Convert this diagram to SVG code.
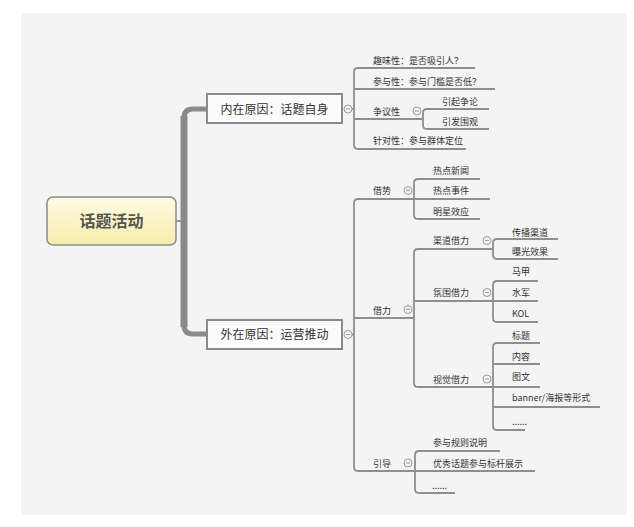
<svg xmlns="http://www.w3.org/2000/svg" width="634" height="527" viewBox="0 0 634 527">
<defs>
<linearGradient id="cg" x1="0" y1="0" x2="0" y2="1">
<stop offset="0" stop-color="#fdfbe6"/>
<stop offset="1" stop-color="#f7eca8"/>
</linearGradient>
<g id="col">
<circle r="4" fill="#f4f4f4" stroke="#9a9a9a" stroke-width="1"/>
<line x1="-2" y1="0" x2="2" y2="0" stroke="#9a9a9a" stroke-width="1"/>
</g>
</defs>
<style>
.ln{fill:none;stroke:#8e8e8e;stroke-width:1.8}
.t{font-family:"Noto Sans CJK SC","Liberation Sans",sans-serif;font-size:9px;fill:#333}
.b{font-family:"Noto Sans CJK SC","Liberation Sans",sans-serif;font-size:12px;fill:#333;text-anchor:middle}
.box{fill:#fbfbfb;stroke:#8a8a8a;stroke-width:2}
</style>
<rect x="0" y="0" width="634" height="527" fill="#ffffff"/>
<rect x="21" y="13" width="606" height="502" fill="#f4f4f4"/>

<g id="connectors">
<line x1="176" y1="221" x2="185" y2="221" class="ln"/>
<path d="M206 109 L193 109 Q184 109 184 118 L184 325 Q184 334 193 334 L206 334" fill="none" stroke="#8a8a8a" stroke-width="5"/>
<line x1="184" y1="116" x2="184" y2="327" stroke="#8a8a8a" stroke-width="7"/>
<!-- box1 children -->
<line x1="352" y1="109" x2="354" y2="109" class="ln"/>
<path d="M475 68 L358 68 Q354 68 354 72 L354 145 Q354 149 358 149 L466 149" class="ln"/>
<line x1="354" y1="89" x2="495" y2="89" class="ln"/>
<line x1="354" y1="119" x2="423" y2="119" class="ln"/>
<path d="M489 109 L427 109 Q423 109 423 113 L423 125 Q423 129 427 129 L489 129" class="ln"/>
<!-- box2 children -->
<line x1="352" y1="334.5" x2="354" y2="334.5" class="ln"/>
<path d="M490 199 L358 199 Q354 199 354 203 L354 467 Q354 471 358 471 L535 471" class="ln"/>
<path d="M480 179 L418 179 Q414 179 414 183 L414 215 Q414 219 418 219 L480 219" class="ln"/>
<line x1="354" y1="318" x2="414" y2="318" class="ln"/>
<path d="M493 249 L418 249 Q414 249 414 253 L414 383 Q414 387 418 387 L540 387" class="ln"/>
<path d="M558 239 L497 239 Q493 239 493 243 L493 255 Q493 259 497 259 L558 259" class="ln"/>
<line x1="414" y1="301" x2="538" y2="301" class="ln"/>
<path d="M538 281 L497 281 Q493 281 493 285 L493 318 Q493 322 497 322 L538 322" class="ln"/>
<path d="M540 343 L497 343 Q493 343 493 347 L493 426 Q493 430 497 430 L525 430" class="ln"/>
<line x1="493" y1="364" x2="540" y2="364" class="ln"/>
<line x1="493" y1="407" x2="600" y2="407" class="ln"/>
<path d="M500 451 L419 451 Q415 451 415 455 L415 489 Q415 493 419 493 L455 493" class="ln"/>
</g>

<g id="root">
<rect x="47" y="197" width="129" height="48" rx="6" fill="url(#cg)" stroke="#8a8a8a" stroke-width="1.5"/>
<text x="111.5" y="227" font-family="'Noto Sans CJK SC','Liberation Sans',sans-serif" font-size="16" font-weight="bold" fill="#555" text-anchor="middle">话题活动</text>
</g>

<g id="inner">
<rect x="207" y="94" width="135" height="29" class="box"/>
<text x="274.5" y="113.5" class="b">内在原因：话题自身</text>
<use href="#col" x="348" y="109"/>
</g>
<g id="outer">
<rect x="207" y="320" width="135" height="29" class="box"/>
<text x="274.5" y="339" class="b">外在原因：运营推动</text>
<use href="#col" x="348" y="334.5"/>
</g>

<g id="fun"><text x="373" y="64" class="t">趣味性：是否吸引人？</text></g>
<g id="part"><text x="373" y="84.5" class="t">参与性：参与门槛是否低？</text></g>
<g id="dispute"><text x="373" y="114.5" class="t">争议性</text><use href="#col" x="417" y="111"/></g>
<g id="d1"><text x="442" y="104.5" class="t">引起争论</text></g>
<g id="d2"><text x="442" y="124.5" class="t">引发围观</text></g>
<g id="target"><text x="373" y="143.5" class="t">针对性：参与群体定位</text></g>

<g id="jieshi"><text x="373" y="194" class="t">借势</text><use href="#col" x="408" y="190.5"/></g>
<g id="js1"><text x="433" y="173.5" class="t">热点新闻</text></g>
<g id="js2"><text x="433" y="194" class="t">热点事件</text></g>
<g id="js3"><text x="433" y="214.5" class="t">明星效应</text></g>

<g id="jieli"><text x="373" y="313.5" class="t">借力</text><use href="#col" x="408" y="309.5"/></g>
<g id="qudao"><text x="433" y="244" class="t">渠道借力</text><use href="#col" x="487" y="240.5"/></g>
<g id="qd1"><text x="512" y="235.5" class="t">传播渠道</text></g>
<g id="qd2"><text x="512" y="255" class="t">曝光效果</text></g>
<g id="fenwei"><text x="433" y="296" class="t">氛围借力</text><use href="#col" x="487" y="292.5"/></g>
<g id="fw1"><text x="512" y="275" class="t">马甲</text></g>
<g id="fw2"><text x="512" y="296" class="t">水军</text></g>
<g id="fw3"><text x="512" y="316.5" class="t">KOL</text></g>
<g id="shijue"><text x="433" y="382.5" class="t">视觉借力</text><use href="#col" x="487" y="379"/></g>
<g id="sj1"><text x="512" y="338.5" class="t">标题</text></g>
<g id="sj2"><text x="512" y="359.5" class="t">内容</text></g>
<g id="sj3"><text x="512" y="379.5" class="t">图文</text></g>
<g id="sj4"><text x="512" y="401" class="t">banner/海报等形式</text></g>
<g id="sj5"><text x="512" y="425" class="t">......</text></g>

<g id="yindao"><text x="373" y="466.5" class="t">引导</text><use href="#col" x="408" y="463"/></g>
<g id="yd1"><text x="433" y="446" class="t">参与规则说明</text></g>
<g id="yd2"><text x="433" y="466.5" class="t">优秀话题参与标杆展示</text></g>
<g id="yd3"><text x="432" y="489" class="t">......</text></g>
</svg>
